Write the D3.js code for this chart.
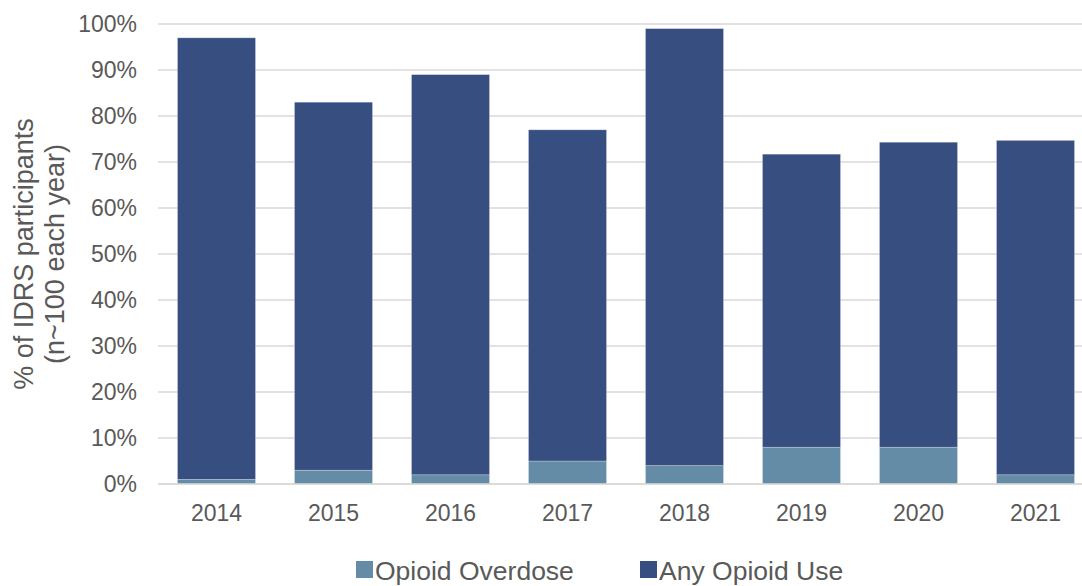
<!DOCTYPE html>
<html><head><meta charset="utf-8">
<script src="https://cdn.jsdelivr.net/npm/d3@7"></script>
<style>body{margin:0;background:#fff}svg{display:block}text{font-family:"Liberation Sans",Arial,sans-serif;fill:#595959}</style>
</head><body>
<svg id="c" width="1082" height="586"></svg>
<script>
const years = ["2014","2015","2016","2017","2018","2019","2020","2021"];
const opioidOverdose = [1, 3, 2, 5, 4, 8, 8, 2];
const anyOpioidUse = [96, 80, 87, 72, 95, 63.7, 66.3, 72.7];
const seriesNames = ["Opioid Overdose", "Any Opioid Use"];
const seriesColors = ["#658CA6", "#374E80"];
const yTicks = [0,10,20,30,40,50,60,70,80,90,100];

const svg = d3.select("#c");
const x = d3.scaleBand().domain(years).range([158, 1094]).paddingInner(0.333).paddingOuter(0.1665);
const y = d3.scaleLinear().domain([0, 100]).range([484, 24]);

const rows = years.map((yr, i) => ({year: yr, od: opioidOverdose[i], any: anyOpioidUse[i]}));
const stack = d3.stack().keys(["od", "any"])(rows);

// gridlines
svg.append("g").selectAll("line").data(yTicks).join("line")
  .attr("x1", 158).attr("x2", 1094)
  .attr("y1", d => y(d)).attr("y2", d => y(d))
  .attr("stroke", "#d9d9d9").attr("stroke-width", 1.5);

// y axis labels
const yAxis = d3.axisLeft(y).tickValues(yTicks).tickFormat(d => d + "%").tickSize(0).tickPadding(0);
const ya = svg.append("g").attr("transform", "translate(137,0)").call(yAxis);
ya.select(".domain").remove();
ya.selectAll("text").style("font-size", "23px").attr("fill", "#595959").style("font-family", '"Liberation Sans",Arial,sans-serif');

// bars
svg.append("g").selectAll("g").data(stack).join("g")
  .attr("fill", (d, i) => seriesColors[i])
  .selectAll("rect").data(d => d).join("rect")
  .attr("x", d => x(d.data.year)).attr("width", x.bandwidth())
  .attr("y", d => y(d[1])).attr("height", d => y(d[0]) - y(d[1]))
  .attr("stroke", "#ffffff").attr("stroke-opacity", 0.35).attr("stroke-width", 0.75);

// baseline
svg.append("line").attr("x1", 158).attr("x2", 1094).attr("y1", y(0)).attr("y2", y(0))
  .attr("stroke", "#d9d9d9").attr("stroke-width", 1.5);

// x axis
const xAxis = d3.axisBottom(x).tickSize(0).tickPadding(0);
const xa = svg.append("g").attr("transform", "translate(0,505)").call(xAxis);
xa.select(".domain").remove();
xa.selectAll("text").style("font-size", "23px").attr("fill", "#595959").attr("dy", "0.71em").style("font-family", '"Liberation Sans",Arial,sans-serif');

// y title
const yt = svg.append("text").attr("transform", "translate(33,254) rotate(-90)")
  .attr("text-anchor", "middle").style("font-size", "27px");
yt.append("tspan").attr("x", 0).attr("dy", 0).text("% of IDRS participants");
yt.append("tspan").attr("x", 0).attr("dy", 31).text("(n~100 each year)");

// legend
const legendX = [356, 640];
const lg = svg.append("g").selectAll("g").data(seriesNames).join("g")
  .attr("transform", (d, i) => `translate(${legendX[i]},561)`);
lg.append("rect").attr("width", 17).attr("height", 17).attr("fill", (d, i) => seriesColors[i]);
lg.append("text").attr("x", 19).attr("y", 9).attr("dy", "0.36em").style("font-size", "26.5px").text(d => d);
</script>
</body></html>
